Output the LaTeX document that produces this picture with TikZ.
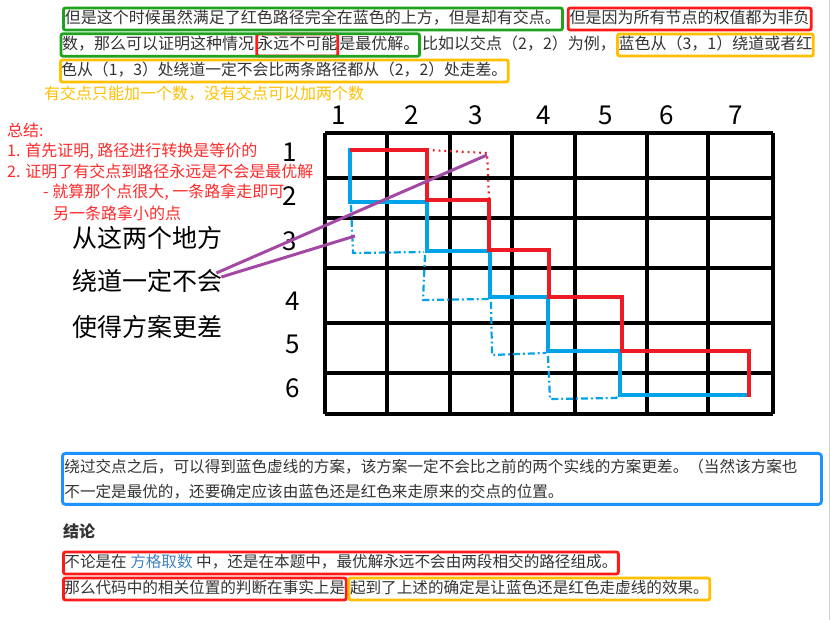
\documentclass[tikz,border=0pt]{standalone}
\usepackage{fontspec}
\setmainfont{Noto Sans CJK SC}
\usetikzlibrary{fit,positioning}
\definecolor{pred}{HTML}{ED1C24}
\definecolor{pblue}{HTML}{00A2E8}
\definecolor{ppurple}{HTML}{A349A4}
\definecolor{bgreen}{HTML}{1FA31F}
\definecolor{bred}{HTML}{FF1A1A}
\definecolor{borange}{HTML}{FFC000}
\definecolor{bblue}{HTML}{1E90FF}
\definecolor{txtc}{HTML}{333333}
\definecolor{linkblue}{HTML}{4183C4}
\definecolor{sumred}{HTML}{FF2A2A}
\definecolor{edgegray}{HTML}{D0D0D0}
\begin{document}
\begin{tikzpicture}[x=1pt,y=-1pt,
  tb/.style={font=\fontsize{16}{18}\selectfont, text=txtc, anchor=west,
    inner xsep=1pt, inner ysep=3.5pt, text height=12.5pt, text depth=2.5pt},
  boxg/.style={draw=bgreen, line width=2.8pt, rounded corners=2pt},
  boxr/.style={draw=bred, line width=2.8pt, rounded corners=2pt},
  boxo/.style={draw=borange, line width=2.8pt, rounded corners=2pt},
  sumtxt/.style={font=\fontsize{16}{18}\selectfont, text=sumred, anchor=west, inner sep=0pt},
  bigtxt/.style={font=\fontsize{25}{28}\selectfont, text=black, anchor=west, inner sep=0pt},
  num/.style={font=\fontsize{26}{28}\selectfont, text=black, inner sep=0pt},
  gridline/.style={line width=3.6pt, black},
  redpath/.style={pred, line width=3.2pt},
  bluepath/.style={pblue, line width=3.2pt},
  reddot/.style={pred, line width=2.2pt, dash pattern=on 1.8pt off 4pt},
  bluedd/.style={pblue, line width=2.2pt, dash pattern=on 7pt off 3pt on 1.8pt off 3pt},
  purp/.style={ppurple, line width=3pt}
]
\useasboundingbox (0,0) rectangle (831,620);
\fill[white] (0,0) rectangle (831,620);
\draw[edgegray, line width=1.5pt] (829.5,0) -- (829.5,620);

% ---- top paragraph ----
\node[tb, boxg, inner xsep=1.5pt] (l1a) at (62,19) {但是这个时候虽然满足了红色路径完全在蓝色的上方，但是却有交点。};
\node[tb, boxr, inner xsep=1.5pt, right=3pt of l1a] (l1b) {但是因为所有节点的权值都为非负};

\node[tb, inner xsep=1pt] (l2a) at (61,45) {数，那么可以证明这种情况};
\node[tb, boxr, inner xsep=0.5pt, right=0pt of l2a] (l2b) {永远不可能};
\node[tb, inner xsep=0pt, right=0pt of l2b] (l2c) {是最优解。};
\node[boxg, fit=(l2a)(l2c), inner sep=0pt] (l2g) {};
\node[tb, inner xsep=0pt, right=1pt of l2g] (l2d) {比如以交点（2，2）为例，};
\node[tb, boxo, inner xsep=1pt, right=0pt of l2d] (l2e) {蓝色从（3，1）绕道或者红};

\node[tb, boxo, font=\fontsize{15.8}{18}\selectfont] (l3) at (59,71) {色从（1，3）处绕道一定不会比两条路径都从（2，2）处走差。};

\node[tb, text=borange] (l4) at (43,95) {有交点只能加一个数，没有交点可以加两个数};

% ---- red summary ----
\node[sumtxt] (s0) at (7,130) {总结:};
\node[sumtxt] (s1) at (7,151) {1. 首先证明, 路径进行转换是等价的};
\node[sumtxt] (s2) at (7,171) {2. 证明了有交点到路径永远是不会是最优解};
\node[sumtxt] (s3) at (43,192) {- 就算那个点很大, 一条路拿走即可};
\node[sumtxt] (s4) at (53,213) {另一条路拿小的点};

% ---- big black text ----
\node[bigtxt] (bt1) at (72,238) {从这两个地方};
\node[bigtxt] (bt2) at (72,281) {绕道一定不会};
\node[bigtxt] (bt3) at (72,327) {使得方案更差};

% ---- grid ----
\foreach \x in {325,387,450,512,575,647,708,773}
  \draw[gridline] (\x,133) -- (\x,414);
\foreach \y in {133,178,218,268,323,373,414}
  \draw[gridline] (325,\y) -- (773,\y);

% column numbers
\node[num] (c1) at (339,115) {1};
\node[num] (c2) at (412,115) {2};
\node[num] (c3) at (476,115) {3};
\node[num] (c4) at (544,115) {4};
\node[num] (c5) at (606,115) {5};
\node[num] (c6) at (667,115) {6};
\node[num] (c7) at (736,115) {7};
% row numbers
\node[num] (r1) at (290,152) {1};
\node[num] (r2) at (290,196) {2};
\node[num] (r3) at (290,241) {3};
\node[num] (r4) at (293,301) {4};
\node[num] (r5) at (293,344) {5};
\node[num] (r6) at (293,388) {6};

% ---- paths ----
\draw[bluepath] (350,148) -- (350,202) -- (427,202) -- (427,251) -- (490,251) -- (490,297)
  -- (548,297) -- (548,351) -- (620,351) -- (620,395) -- (748,395);
\draw[redpath] (350,150) -- (427,150) -- (427,200) -- (489,200) -- (489,250) -- (549,250)
  -- (549,297) -- (622,297) -- (622,351) -- (749,351) -- (749,397);
\draw[reddot] (427,150) -- (487,153) -- (489,200);

\draw[bluedd] (351,205) -- (353,253) -- (424,252);
\draw[bluedd] (425,255) -- (423,300) -- (490,299);
\draw[bluedd] (491,302) -- (492,355) -- (546,353);
\draw[bluedd] (548,356) -- (550,399) -- (616,398) -- (620,394);

% ---- purple connectors ----
\coordinate (pa) at (487,155);
\coordinate (pb) at (355,236);
\coordinate (ea) at ([xshift=-6pt,yshift=8pt]bt2.east);
\coordinate (eb) at ([xshift=-1pt,yshift=4pt]bt2.east);
\draw[purp] (pa) -- (ea);
\draw[purp] (pb) -- (eb);

% ---- bottom ----
\node[draw=bblue, line width=2.8pt, rounded corners=3pt, anchor=north west,
  text width=755pt, minimum height=51pt, align=left, text=txtc,
  inner xsep=2pt, inner ysep=5pt, font=\fontsize{15.6}{25}\selectfont] (bb) at (61,452)
  {绕过交点之后，可以得到蓝色虚线的方案，该方案一定不会比之前的两个实线的方案更差。（当然该方案也\\
   不一定是最优的，还要确定应该由蓝色还是红色来走原来的交点的位置。};

\node[tb, font=\bfseries\fontsize{16}{18}\selectfont] (jl) at (62,532) {结论};

\node[tb, boxr, font=\fontsize{15.6}{18}\selectfont] (b1) at (62,563) {不论是在 \textcolor{linkblue}{方格取数} 中，还是在本题中，最优解永远不会由两段相交的路径组成。};
\node[tb, boxr, font=\fontsize{15.6}{18}\selectfont] (b2) at (62,589) {那么代码中的相关位置的判断在事实上是};
\node[tb, boxo, font=\fontsize{15.6}{18}\selectfont, right=0pt of b2] (b3) {起到了上述的确定是让蓝色还是红色走虚线的效果。};
\end{tikzpicture}
\end{document}
